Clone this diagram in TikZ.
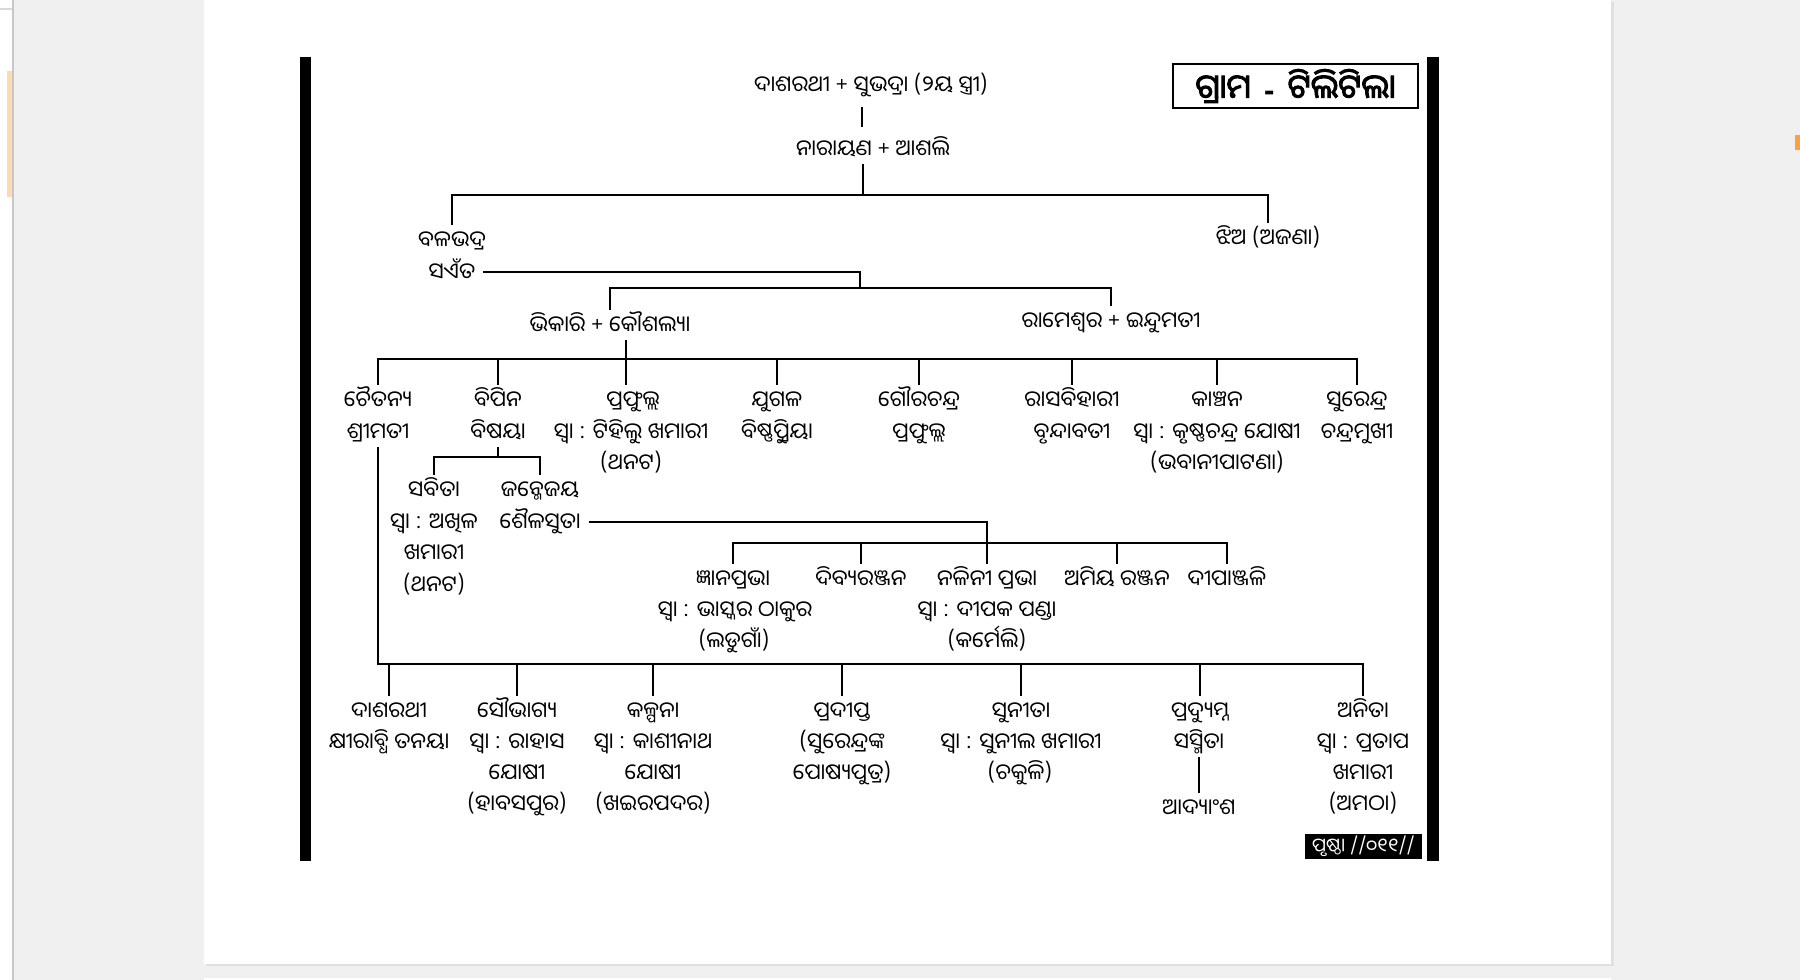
\documentclass[tikz,border=0pt]{standalone}
\usepackage{fontspec}
\newfontfamily\odia[Script=Oriya]{Noto Sans Oriya UI}
\newfontfamily\odiabold[Script=Oriya,FakeBold=3]{Noto Sans Oriya UI}
\newfontfamily\latinbold{DejaVu Sans Bold}
\begin{document}
\begin{tikzpicture}[x=1pt,y=-1pt,
  lbl/.style={inner sep=0pt, text height=23pt, text depth=7pt,
    font=\odia\fontsize{22}{26}\selectfont},
  link/.style={line width=1.8pt, black},
  edge/.style={draw=#1, line width=1.5pt}]
\useasboundingbox (0,0) rectangle (1800,980);
% viewer background, side strip and page
\fill[black!6!white] (0,0) rectangle (1800,980);
\fill[white] (0,0) rectangle (12,980);
\draw[edge=black!22] (13,0) -- (13,980);
\draw[edge=black!15] (0,9) -- (12,9);
\fill[orange!30!white] (7,71) rectangle (12,197);
\fill[orange!75!white] (1795,135) rectangle (1800,150);
\fill[black!12] (206,2) rectangle (1614,966);
\fill[white] (204,0) rectangle (1611,964);
\fill[white] (204,978) rectangle (1611,980);

% side bars and heading
\fill[black] (300,57) rectangle (311,861);
\fill[black] (1427,57) rectangle (1439,861);
\node[draw, line width=1.3pt, minimum width=245pt, minimum height=44pt, inner sep=0pt,
  font=\odiabold\fontsize{33}{36}\selectfont] (title) at (1295.5,86)
  {ଗ୍ରାମ\hspace{13pt}{\latinbold\fontsize{26}{30}\selectfont -}\hspace{13pt}ଟିଲିଟିଲା};

% first generations
\node[lbl] (t1) at (871,85) {ଦାଶରଥୀ + ସୁଭଦ୍ରା (୨ୟ ସ୍ତ୍ରୀ)};
\node[lbl] (t2) at (873,149) {ନାରାୟଣ + ଆଶଲି};
\coordinate (jt) at (862,0);
\draw[link, shorten <=7pt, shorten >=7pt] (t1.south -| jt) -- (t2.north -| jt);
\coordinate (bus1) at (863,195);
\node[lbl] (bal) at (452,240) {ବଳଭଦ୍ର};
\node[lbl] (sar) at (452,272) {ସଏଁତ};
\node[lbl] (jhi) at (1268,238) {ଝିଅ (ଅଜଣା)};
\draw[link] (t2.south -| bus1) -- (bus1);
\draw[link] (bal.north) |- (bus1) -| (jhi.north);

\coordinate (bus2) at (860,288);
\node[lbl] (bhi) at (610,325) {ଭିକାରି + କୌଶଲ୍ୟା};
\node[lbl] (ram) at (1111,321) {ରାମେଶ୍ୱର + ଇନ୍ଦୁମତୀ};
\draw[link] ([xshift=8pt]sar.east) -| (bus2);
\draw[link] (bhi.north) |- (bus2) -| (ram.north);

% children of Bhikari
\coordinate (bus3) at (626,359);
\node[lbl] (c1)  at (378,400) {ଚୈତନ୍ୟ};
\node[lbl] (c1b) at (378,432) {ଶ୍ରୀମତୀ};
\node[lbl] (c2)  at (498,400) {ବିପିନ};
\node[lbl] (c2b) at (498,432) {ବିଷୟା};
\node[lbl] (c3)  at (633,400) {ପ୍ରଫୁଲ୍ଲ};
\node[lbl] (c3b) at (631,432) {ସ୍ୱା : ଟିହିଲୁ ଖମାରୀ};
\node[lbl] (c3c) at (631,463) {(ଥନଟ)};
\node[lbl] (c4)  at (777,400) {ଯୁଗଳ};
\node[lbl] (c4b) at (777,432) {ବିଷ୍ଣୁପ୍ରିୟା};
\node[lbl] (c5)  at (919,400) {ଗୌରଚନ୍ଦ୍ର};
\node[lbl] (c5b) at (919,432) {ପ୍ରଫୁଲ୍ଲ};
\node[lbl] (c6)  at (1072,400) {ରାସବିହାରୀ};
\node[lbl] (c6b) at (1072,432) {ବୃନ୍ଦାବତୀ};
\node[lbl] (c7)  at (1217,400) {କାଞ୍ଚନ};
\node[lbl] (c7b) at (1217,432) {ସ୍ୱା : କୃଷ୍ଣଚନ୍ଦ୍ର ଯୋଷୀ};
\node[lbl] (c7c) at (1217,463) {(ଭବାନୀପାଟଣା)};
\node[lbl] (c8)  at (1357,400) {ସୁରେନ୍ଦ୍ର};
\node[lbl] (c8b) at (1357,432) {ଚନ୍ଦ୍ରମୁଖୀ};
\draw[link] (bhi.south -| bus3) -- (bus3 |- c3.north);
\draw[link] (c1.north) |- (bus3) -| (c8.north);
\foreach \n in {c2,c4,c5,c6,c7}
  \draw[link] (bus3 -| \n.north) -- (\n.north);

% children of Bipin
\coordinate (bus4) at (0,457);
\node[lbl] (s1)  at (434,490) {ସବିତା};
\node[lbl] (s1b) at (434,522) {ସ୍ୱା : ଅଖିଳ};
\node[lbl] (s1c) at (434,553) {ଖମାରୀ};
\node[lbl] (s1d) at (434,585) {(ଥନଟ)};
\node[lbl] (s2)  at (540,490) {ଜନ୍ମେଜୟ};
\node[lbl] (s2b) at (540,522) {ଶୈଳସୁତା};
\draw[link] (c2b.south) -- (c2b.south |- bus4);
\draw[link] (s1.north) |- (c2b.south |- bus4) -| (s2.north);

% children of Janmejaya
\coordinate (bus5) at (987,543);
\node[lbl] (n1)  at (733,579) {ଜ୍ଞାନପ୍ରଭା};
\node[lbl] (n1b) at (735,610) {ସ୍ୱା : ଭାସ୍କର ଠାକୁର};
\node[lbl] (n1c) at (734,641) {(ଲଡୁଗାଁ)};
\node[lbl] (n2)  at (861,579) {ଦିବ୍ୟରଞ୍ଜନ};
\node[lbl] (n3)  at (987,579) {ନଳିନୀ ପ୍ରଭା};
\node[lbl] (n3b) at (987,610) {ସ୍ୱା : ଦୀପକ ପଣ୍ଡା};
\node[lbl] (n3c) at (987,641) {(କର୍ମେଲି)};
\node[lbl] (n4)  at (1117,579) {ଅମିୟ ରଞ୍ଜନ};
\node[lbl] (n5)  at (1227,579) {ଦୀପାଞ୍ଜଳି};
\draw[link] ([xshift=8pt]s2b.east) -| (n3.north);
\draw[link] (n1.north) |- (bus5) -| (n5.north);
\foreach \n in {n2,n4}
  \draw[link] (bus5 -| \n.north) -- (\n.north);

% children of Chaitanya
\coordinate (bus6) at (0,664);
\node[lbl] (g1)  at (389,711) {ଦାଶରଥୀ};
\node[lbl] (g1b) at (389,742) {କ୍ଷୀରାବ୍ଧି ତନୟା};
\node[lbl] (g2)  at (517,711) {ସୌଭାଗ୍ୟ};
\node[lbl] (g2b) at (517,742) {ସ୍ୱା : ରାହାସ};
\node[lbl] (g2c) at (517,773) {ଯୋଷୀ};
\node[lbl] (g2d) at (517,804) {(ହାବସପୁର)};
\node[lbl] (g3)  at (653,711) {କଳ୍ପନା};
\node[lbl] (g3b) at (653,742) {ସ୍ୱା : କାଶୀନାଥ};
\node[lbl] (g3c) at (653,773) {ଯୋଷୀ};
\node[lbl] (g3d) at (653,804) {(ଖଇରପଦର)};
\node[lbl] (g4)  at (842,711) {ପ୍ରଦୀପ୍ତ};
\node[lbl] (g4b) at (842,742) {(ସୁରେନ୍ଦ୍ରଙ୍କ};
\node[lbl] (g4c) at (842,773) {ପୋଷ୍ୟପୁତ୍ର)};
\node[lbl] (g5)  at (1021,711) {ସୁନୀତା};
\node[lbl] (g5b) at (1021,742) {ସ୍ୱା : ସୁନୀଲ ଖମାରୀ};
\node[lbl] (g5c) at (1020,773) {(ଚକୁଳି)};
\node[lbl] (g6)  at (1200,711) {ପ୍ରଦ୍ୟୁମ୍ନ};
\node[lbl] (g6b) at (1199,742) {ସସ୍ମିତା};
\node[lbl] (g6c) at (1199,808) {ଆଦ୍ୟାଂଶ};
\node[lbl] (g7)  at (1363,711) {ଅନିତା};
\node[lbl] (g7b) at (1363,742) {ସ୍ୱା : ପ୍ରତାପ};
\node[lbl] (g7c) at (1363,773) {ଖମାରୀ};
\node[lbl] (g7d) at (1363,804) {(ଅମଠା)};
\draw[link] (c1b.south) -- (c1b.south |- bus6) -| (g7.north);
\foreach \n in {g1,g2,g3,g4,g5,g6}
  \draw[link] (bus6 -| \n.north) -- (\n.north);
\draw[link] (g6b.south) -- (g6b.south |- g6c.north);

% page number tag
\node[fill=black, text=white, minimum width=117pt, minimum height=25pt, inner sep=0pt,
  font=\odia\fontsize{19}{22}\selectfont] (page) at (1363.5,846.5) {ପୃଷ୍ଠା //୦୧୧//};
\end{tikzpicture}
\end{document}
